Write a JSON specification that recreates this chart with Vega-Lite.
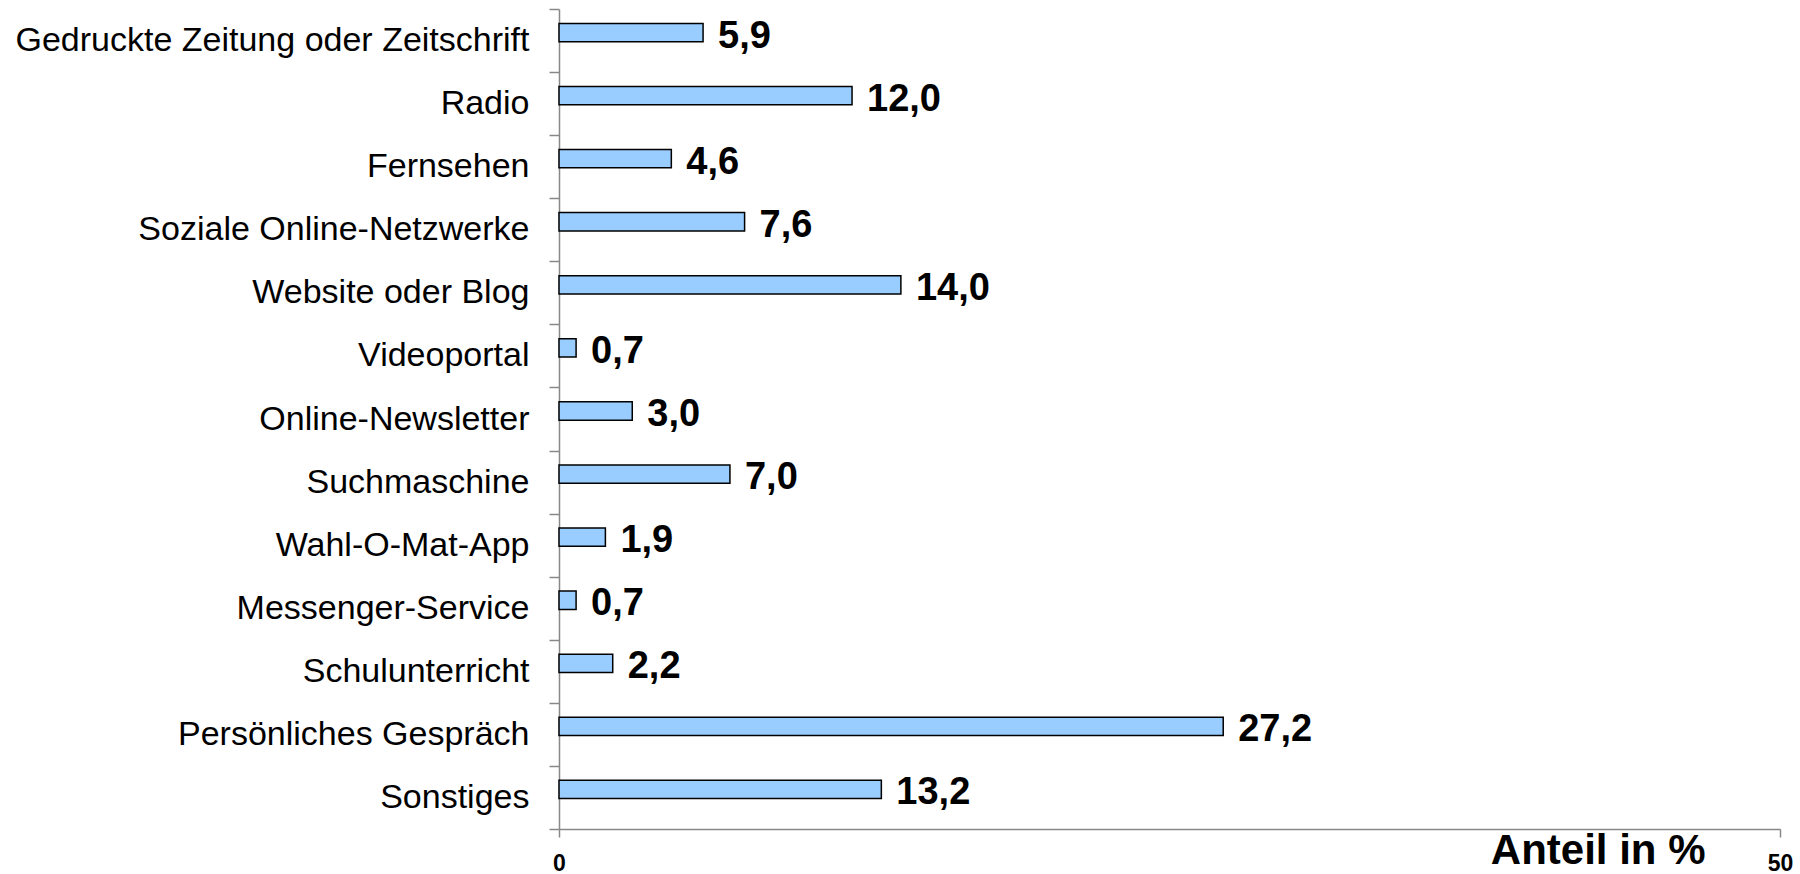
{
  "$schema": "https://vega.github.io/schema/vega-lite/v6.json",
  "autosize": {"type": "none"},
  "width": 1221,
  "height": 820,
  "padding": {"left": 559, "top": 9, "right": 20, "bottom": 45},
  "background": "white",
  "config": {"view": {"stroke": null}, "font": "Liberation Sans"},
  "data": {"values": [
    {"cat": "Gedruckte Zeitung oder Zeitschrift", "v": 5.9, "lbl": "5,9"},
    {"cat": "Radio", "v": 12.0, "lbl": "12,0"},
    {"cat": "Fernsehen", "v": 4.6, "lbl": "4,6"},
    {"cat": "Soziale Online-Netzwerke", "v": 7.6, "lbl": "7,6"},
    {"cat": "Website oder Blog", "v": 14.0, "lbl": "14,0"},
    {"cat": "Videoportal", "v": 0.7, "lbl": "0,7"},
    {"cat": "Online-Newsletter", "v": 3.0, "lbl": "3,0"},
    {"cat": "Suchmaschine", "v": 7.0, "lbl": "7,0"},
    {"cat": "Wahl-O-Mat-App", "v": 1.9, "lbl": "1,9"},
    {"cat": "Messenger-Service", "v": 0.7, "lbl": "0,7"},
    {"cat": "Schulunterricht", "v": 2.2, "lbl": "2,2"},
    {"cat": "Persönliches Gespräch", "v": 27.2, "lbl": "27,2"},
    {"cat": "Sonstiges", "v": 13.2, "lbl": "13,2"}
  ]},
  "encoding": {
    "y": {
      "field": "cat", "type": "nominal", "sort": null,
      "scale": {"paddingInner": 0, "paddingOuter": 0},
      "axis": {
        "title": null, "tickBand": "extent", "domainColor": "#888888", "domainWidth": 1.5,
        "tickColor": "#888888", "tickWidth": 1.5, "tickSize": 10, "labelPadding": 20,
        "labelFont": "Liberation Sans", "labelFontSize": 34, "labelColor": "black", "labelLimit": 0
      }
    },
    "x": {
      "field": "v", "type": "quantitative",
      "scale": {"domain": [0, 50], "nice": false},
      "axis": {
        "values": [0, 50], "grid": false, "domainColor": "#888888", "domainWidth": 1.5,
        "tickColor": "#888888", "tickWidth": 1.5, "tickSize": 8, "labelPadding": 15, "labelFlush": false,
        "labelFont": "Liberation Sans", "labelFontSize": 23, "labelFontWeight": "bold", "labelColor": "black",
        "title": "Anteil in %", "titleFont": "Liberation Sans", "titleFontSize": 42, "titleFontWeight": "bold",
        "titleColor": "black", "titleAnchor": null, "titleAlign": "right", "titleBaseline": "alphabetic",
        "titleX": 1146, "titleY": 34
      }
    }
  },
  "layer": [
    {
      "mark": {"type": "bar", "fill": "#99CCFF", "stroke": "black", "strokeWidth": 1.5, "height": {"band": 0.29}, "yOffset": -8}
    },
    {
      "mark": {"type": "text", "align": "left", "baseline": "middle", "dx": 15, "yOffset": -4, "font": "Liberation Sans", "fontSize": 38, "fontWeight": "bold", "color": "black"},
      "encoding": {"text": {"field": "lbl"}}
    }
  ]
}
